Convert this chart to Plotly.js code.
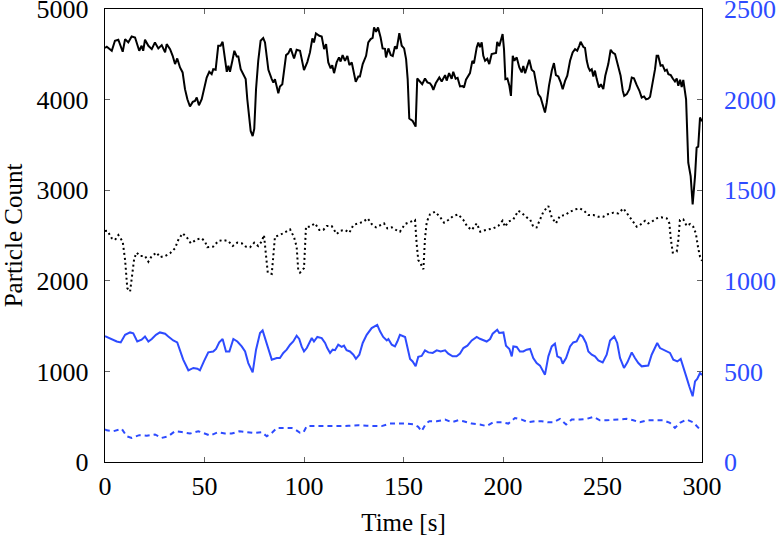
<!DOCTYPE html>
<html>
<head>
<meta charset="utf-8">
<script src="https://cdn.plot.ly/plotly-3.0.1.min.js"></script>
<style>html,body{margin:0;padding:0;background:#fff;}#chart{width:776px;height:541px;}</style>
</head>
<body>
<div id="chart"></div>
<script>
// Black solid (left axis)
const blackSolidT = [0,0.9,3.4,5.0,6.7,8.9,10.1,11.7,13.4,15.1,
17.2,18.4,19.2,20.1,21.8,23.5,25.1,26.8,28.5,30.2,
31.0,32.7,34.0,35.2,36.3,37.7,39.0,40.2,41.4,42.7,
44.1,45.2,46.1,47.2,48.6,49.7,51.1,52.4,53.6,54.4,
55.6,56.9,58.1,59.1,59.8,61.2,62.0,62.8,64.0,65.0,
66.2,67.0,68.2,69.5,70.7,71.5,72.4,73.2,74.2,75.0,
75.9,77.0,78.2,79.5,80.4,81.3,82.1,83.8,84.6,85.4,
87.1,87.9,89.1,91.0,92.1,93.3,95.0,96.3,98.0,100.0,
101.7,103.0,104.2,105.0,106.0,107.7,108.9,110.1,111.1,112.2,
113.4,114.2,115.1,116.4,117.6,118.4,119.4,120.6,121.8,122.8,
124.0,126.0,127.3,128.1,129.5,131.2,132.3,133.5,134.5,135.2,
136.2,137.2,138.5,139.5,140.7,141.2,142.4,143.6,144.6,145.7,
146.6,147.9,149.1,150.3,151.3,152.1,152.9,154.6,156.1,156.9,
158.3,159.4,160.8,162.0,163.3,164.2,165.0,166.2,168.0,169.2,
170.9,171.7,172.9,174.2,175.0,176.2,177.2,178.4,179.7,180.4,
181.4,183.4,184.6,185.4,186.8,187.6,188.4,189.3,190.1,191.0,
192.1,193.1,194.3,195.5,196.5,197.1,198.1,199.8,200.5,201.2,
202.2,203.2,204.0,204.9,205.7,206.9,208.2,209.4,210.2,211.1,
211.9,213.2,214.4,215.6,216.9,217.7,218.9,219.9,221.1,222.0,
223.1,224.5,225.6,226.6,227.8,229.0,230.0,231.2,232.3,233.7,
235.0,236.2,237.3,238.3,239.0,240.4,241.2,242.1,242.9,243.7,
244.6,245.4,246.2,247.1,248.2,249.2,250.4,251.4,252.9,254.1,
255.1,256.3,257.1,257.9,259.1,260.2,260.9,262.2,263.5,264.7,
265.8,267.2,268.5,269.7,270.9,271.9,273.0,273.9,275.2,276.4,
277.2,278.0,279.2,280.2,281.4,282.3,283.1,284.3,285.3,286.4,
287.3,288.1,289.0,289.8,290.6,292.0,293.1,294.3,295.3,296.5,
297.3,298.1,299.0,300];
const blackSolidV = [4570,4583,4539,4650,4661,4528,4668,4631,4697,4686,
4539,4594,4539,4661,4594,4557,4631,4565,4601,4521,
4612,4557,4483,4392,4454,4355,4300,4115,4004,3924,
3975,3986,4023,3938,4004,4096,4244,4307,4281,4336,
4330,4594,4594,4638,4521,4307,4374,4307,4428,4539,
4477,4477,4336,4270,4226,4004,3802,3654,3598,3676,
4115,4428,4650,4679,4631,4447,4329,4226,4188,4226,
4071,4145,4170,4491,4510,4565,4454,4550,4539,4325,
4417,4521,4676,4631,4731,4705,4697,4557,4612,4410,
4344,4380,4292,4410,4466,4420,4491,4428,4483,4381,
4410,4196,4255,4255,4392,4483,4631,4668,4680,4797,
4749,4797,4686,4565,4560,4466,4565,4491,4480,4587,
4560,4734,4594,4565,4447,4226,3791,3764,3702,4233,
4196,4170,4233,4190,4180,4152,4108,4180,4244,4200,
4270,4210,4292,4230,4307,4230,4240,4145,4150,4133,
4220,4292,4428,4400,4576,4630,4580,4631,4483,4428,
4450,4392,4502,4510,4515,4638,4590,4723,4557,4226,
4233,4152,4041,4483,4430,4466,4355,4300,4370,4290,
4340,4440,4329,4307,4152,4060,4023,3938,3857,3968,
4152,4318,4403,4270,4255,4190,4115,4207,4263,4428,
4521,4557,4540,4594,4638,4580,4570,4428,4355,4320,
4335,4255,4320,4226,4133,4170,4115,4263,4392,4550,
4520,4502,4430,4373,4263,4096,4041,4060,4115,4244,
4235,4159,4100,4023,4035,4004,4010,4030,4189,4336,
4483,4483,4373,4380,4318,4330,4281,4270,4233,4200,
4233,4152,4220,4140,4218,4004,3304,3156,2843,3156,
3470,3480,3802,3760];

// Black dotted (left axis)
const blackDotT = [0,1.2,3.4,5.0,6.7,8.9,10.1,11.2,12.6,13.7,
14.7,15.9,17.6,20.1,21.8,23.5,26.0,27.6,30.2,32.7,
35.2,36.8,39.0,41.1,43.1,44.4,46.1,48.6,50.3,51.4,
54.4,56.9,59.4,62.0,64.2,66.5,68.7,70.7,72.9,75.0,
77.0,78.7,79.9,80.8,81.8,83.8,84.6,85.4,87.9,90.5,
93.0,95.0,96.3,97.1,98.0,100.0,101.0,103.0,105.5,107.7,
109.7,111.4,113.9,116.4,118.4,120.6,122.8,124.8,127.3,129.8,
132.0,134.0,136.2,138.2,140.2,141.9,144.1,146.2,148.2,150.8,
153.3,155.8,156.6,157.4,158.3,160.0,160.8,161.7,163.3,165.8,
168.3,170.4,172.5,175.0,177.5,180.1,182.1,184.3,186.8,188.6,
191.4,195.1,197.6,199.8,201.0,202.7,205.2,207.7,209.4,211.9,
213.6,215.2,216.9,218.6,220.3,222.8,224.5,226.6,228.6,231.2,
233.7,236.2,238.7,240.7,242.9,245.4,247.9,250.4,252.9,255.4,
257.9,260.5,262.2,264.7,267.2,268.8,271.4,273.0,274.7,277.2,
279.7,282.3,283.6,284.3,285.3,287.3,288.1,288.9,290.6,292.3,
294.0,295.6,296.9,298.1,299.0,300];
const blackDotV = [2550,2553,2469,2450,2505,2432,2230,1918,1881,2046,
2249,2311,2274,2274,2211,2274,2311,2260,2274,2304,
2359,2450,2524,2480,2414,2432,2458,2469,2432,2370,
2377,2439,2450,2439,2384,2421,2414,2377,2370,2421,
2384,2432,2505,2304,2090,2076,2285,2487,2505,2542,
2568,2480,2377,2120,2090,2139,2597,2597,2634,2561,
2561,2605,2605,2517,2553,2561,2531,2616,2634,2652,
2689,2627,2590,2616,2634,2579,2590,2561,2542,2627,
2652,2671,2414,2230,2200,2128,2469,2652,2733,2762,
2707,2641,2671,2715,2733,2671,2597,2561,2634,2542,
2561,2579,2605,2663,2597,2652,2678,2773,2750,2700,
2678,2597,2590,2678,2762,2825,2700,2634,2715,2726,
2762,2788,2799,2773,2726,2726,2707,2707,2737,2751,
2744,2799,2751,2678,2597,2615,2663,2634,2652,2689,
2700,2689,2634,2469,2311,2322,2450,2671,2678,2605,
2627,2597,2524,2359,2267,2220];

// Blue solid (right axis)
const blueSolidT = [0,0.9,3.4,5.9,7.9,10.1,12.6,14.2,16.2,18.4,
20.1,21.8,23.5,25.6,27.6,30.2,31.8,34.3,36.3,37.7,
39.3,41.9,44.4,46.4,47.7,49.7,51.9,54.4,55.8,57.4,
59.1,60.8,62.5,64.5,66.5,68.7,70.4,72.0,74.2,75.9,
77.9,79.2,80.4,82.1,83.8,86.3,87.9,89.6,91.3,93.0,
94.6,96.3,97.6,98.8,100.0,101.4,102.7,103.9,105.0,106.7,
108.9,110.6,111.7,113.1,114.4,115.6,117.2,118.9,120.1,121.4,
123.1,124.8,126.1,127.8,129.5,131.5,134.0,135.7,136.8,138.2,
139.8,141.6,142.4,144.1,145.7,146.9,148.2,150.8,151.9,153.3,
154.6,156.1,157.4,159.1,160.8,162.5,164.7,166.7,168.7,170.9,
172.5,174.7,176.7,178.4,180.1,182.1,184.3,186.8,188.4,190.1,
191.8,193.5,194.8,197.1,198.1,200.2,201.5,203.2,204.4,205.2,
206.9,208.5,210.2,211.9,213.6,215.2,216.9,218.6,221.1,222.8,
224.5,226.1,227.3,229.0,230.0,231.7,233.7,235.3,237.0,238.7,
240.0,241.7,242.9,244.6,246.2,247.9,250.1,252.1,253.8,255.9,
257.4,258.8,260.8,262.5,264.7,266.3,268.0,269.7,271.4,273.0,
274.7,276.4,277.5,278.9,280.5,282.3,283.9,285.6,287.6,289.3,
290.6,292.3,293.6,295.3,296.5,297.6,299.0,300];
const blueSolidV = [695,690,675,665,660,702,715,710,665,675,
693,665,679,702,715,708,693,671,660,620,
565,506,519,515,506,555,605,610,624,660,
679,610,610,679,665,638,610,546,495,620,
712,726,684,620,565,574,574,602,620,647,
665,697,679,638,610,629,660,684,665,690,
684,657,629,602,620,617,647,635,642,617,
610,592,569,592,657,702,739,748,757,721,
690,671,679,647,638,665,702,690,638,569,
555,528,580,585,616,605,602,616,610,616,
598,583,583,598,629,642,671,690,680,671,
665,679,708,730,712,715,642,624,583,638,
635,610,610,620,624,574,546,532,482,583,
638,653,583,574,543,574,638,660,665,702,
693,657,610,592,583,561,550,592,671,693,
657,574,519,550,605,574,546,528,532,532,
592,638,657,629,620,610,602,565,555,569,
528,464,418,363,445,459,491,480];

// Blue dashed (right axis)
const blueDashT = [0,0.9,4.2,8.4,10.9,13.4,17.2,21.0,25.1,28.5,
31.8,35.2,38.5,42.7,46.9,49.4,52.8,56.9,60.3,63.7,
67.5,71.2,74.9,78.7,81.3,83.8,86.3,90.5,93.8,95.5,
98.0,99.7,101.4,105.5,109.7,113.9,118.1,122.3,127.3,131.5,
134.8,139.0,143.2,147.4,151.6,155.3,157.4,159.1,161.3,163.0,
166.7,170.9,174.2,177.5,180.1,184.3,188.4,191.8,195.1,199.3,
202.7,206.0,209.4,212.7,216.1,219.4,222.8,225.3,228.6,231.7,
234.5,238.7,242.1,245.4,248.7,252.1,255.4,258.8,262.2,265.5,
268.8,272.2,276.4,280.5,283.9,286.4,288.9,292.3,295.6,298.1,
299.0,300];
const blueDashV = [180,175,170,183,142,133,148,145,152,133,
142,170,165,157,170,160,146,165,157,157,
170,165,160,165,142,160,188,188,188,180,
161,163,198,198,198,194,198,200,203,200,
200,198,212,212,212,207,194,170,212,225,
225,234,220,230,225,212,207,198,219,219,
212,243,234,219,225,225,219,219,238,207,
234,234,238,249,230,230,234,238,238,230,
219,230,230,230,216,188,216,234,219,188,
179,175];

const xTicks = [0,50,100,150,200,250,300];
const leftTicks = [0,1000,2000,3000,4000,5000];
const rightTicks = [0,500,1000,1500,2000,2500];

const BLUE = 'rgb(45,75,255)';
const FONT = 'Liberation Serif, Times New Roman, serif';

const traces = [
  {x: blackSolidT, y: blackSolidV, mode: 'lines', line: {color: '#000', width: 2}, yaxis: 'y', hoverinfo: 'none'},
  {x: blackDotT, y: blackDotV, mode: 'lines', line: {color: '#000', width: 2, dash: '2px,3px'}, yaxis: 'y', hoverinfo: 'none'},
  {x: blueSolidT, y: blueSolidV, mode: 'lines', line: {color: BLUE, width: 2}, yaxis: 'y2', hoverinfo: 'none'},
  {x: blueDashT, y: blueDashV, mode: 'lines', line: {color: BLUE, width: 2, dash: '5px,4px'}, yaxis: 'y2', hoverinfo: 'none'}
];

const layout = {
  width: 776, height: 541,
  margin: {l: 105, r: 74, t: 9, b: 79},
  paper_bgcolor: '#fff', plot_bgcolor: '#fff',
  showlegend: false,
  font: {family: FONT, size: 26, color: '#000'},
  xaxis: {
    range: [0, 300], tickvals: xTicks, ticktext: xTicks.map(String),
    ticks: 'inside', ticklen: 5, tickcolor: '#666', tickwidth: 1,
    showline: true, linecolor: '#000', linewidth: 1.2, mirror: 'ticks',
    showgrid: false, zeroline: false, ticklabeloverflow: 'allow',
    tickfont: {family: FONT, size: 26, color: '#000'},
    ticklabelstandoff: 1,
    title: {text: 'Time [s]', font: {family: FONT, size: 25, color: '#000'}, standoff: 13}
  },
  yaxis: {
    range: [0, 5000], tickvals: leftTicks, ticktext: leftTicks.map(String),
    ticks: 'inside', ticklen: 5, tickcolor: '#666', tickwidth: 1,
    showline: true, linecolor: '#000', linewidth: 1.2, mirror: true,
    showgrid: false, zeroline: false, ticklabeloverflow: 'allow',
    tickfont: {family: FONT, size: 26, color: '#000'},
    ticklabelstandoff: 10,
    title: {text: 'Particle Count', font: {family: FONT, size: 25, color: '#000'}, standoff: 12}
  },
  yaxis2: {
    range: [0, 2500], tickvals: rightTicks, ticktext: rightTicks.map(String),
    overlaying: 'y', side: 'right',
    ticks: 'inside', ticklen: 5, tickcolor: '#666', tickwidth: 1,
    showline: false, showgrid: false, zeroline: false, ticklabeloverflow: 'allow',
    tickfont: {family: FONT, size: 26, color: BLUE},
    ticklabelstandoff: 21
  }
};

Plotly.newPlot('chart', traces, layout, {staticPlot: true, displayModeBar: false});
</script>
</body>
</html>
